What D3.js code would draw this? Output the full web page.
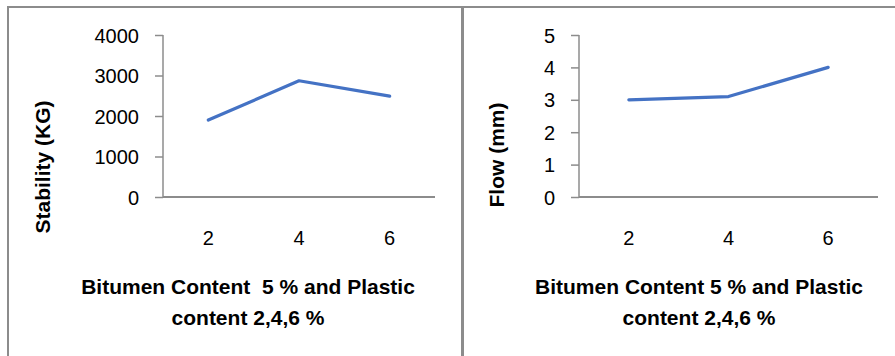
<!DOCTYPE html>
<html><head><meta charset="utf-8">
<script src="https://cdn.jsdelivr.net/npm/d3@7"></script>
<style>body{margin:0;background:#fff}svg{display:block}</style>
</head><body>
<script>
const categories = ["2", "4", "6"];
const stability = [1900, 2870, 2490];
const flow = [3.0, 3.1, 4.0];
const stabilityTicks = [0, 1000, 2000, 3000, 4000];
const flowTicks = [0, 1, 2, 3, 4, 5];
const yTitles = ["Stability (KG)", "Flow (mm)"];
const xTitles = [["Bitumen Content\u00a0\u00a05 % and Plastic", "content 2,4,6 %"], ["Bitumen Content 5 % and Plastic", "content 2,4,6 %"]];

const W = 895, H = 356;
const svg = d3.select("body").append("svg").attr("width", W).attr("height", H);
const font = "'Liberation Sans', Arial, sans-serif";

// borders
svg.append("line").attr("x1", 7).attr("x2", 895).attr("y1", 7).attr("y2", 7).attr("stroke", "#8c8c8c").attr("stroke-width", 2);
svg.append("line").attr("x1", 8).attr("x2", 8).attr("y1", 6).attr("y2", 356).attr("stroke", "#8c8c8c").attr("stroke-width", 2);
svg.append("line").attr("x1", 462.5).attr("x2", 462.5).attr("y1", 6).attr("y2", 356).attr("stroke", "#8c8c8c").attr("stroke-width", 3);

const panels = [
  {data: stability, ticks: stabilityTicks, max: 4000, x0: 163, x1: 435, labelRight: 139, yt: yTitles[0], ytx: 43, yty: 167, xt: xTitles[0], xtx: 248},
  {data: flow, ticks: flowTicks, max: 5, x0: 579, x1: 878, labelRight: 555, yt: yTitles[1], ytx: 497, yty: 155, xt: xTitles[1], xtx: 699}
];

panels.forEach(p => {
  const x = d3.scaleBand().domain(categories).range([p.x0, p.x1]);
  const y = d3.scaleLinear().domain([0, p.max]).range([197, 35]);
  const g = svg.append("g");
  // y axis
  const ya = g.append("g").attr("transform", `translate(${p.x0},0)`)
    .call(d3.axisLeft(y).tickValues(p.ticks).tickSize(8).tickPadding(0).tickFormat(d3.format("d")));
  ya.select(".domain").attr("stroke", "#8c8c8c").attr("stroke-width", 1.5).attr("d", `M0,35V197`);
  ya.selectAll(".tick line").attr("stroke", "#8c8c8c").attr("stroke-width", 1.5);
  ya.selectAll(".tick text").attr("x", p.labelRight - p.x0).attr("dy", "0.35em")
    .attr("font-family", font).attr("font-size", 20).attr("fill", "#000").attr("text-anchor", "end");
  // x axis
  const xa = g.append("g").attr("transform", `translate(0,197)`)
    .call(d3.axisBottom(x).tickSize(0).tickPadding(0));
  xa.select(".domain").attr("stroke", "#8c8c8c").attr("stroke-width", 2).attr("d", `M${p.x0},0H${p.x1}`);
  xa.selectAll(".tick text").attr("y", 41).attr("dy", "0.35em")
    .attr("font-family", font).attr("font-size", 20).attr("fill", "#000");
  // line
  const line = d3.line().x((d, i) => x(categories[i]) + x.bandwidth() / 2).y(d => y(d));
  g.append("path").datum(p.data).attr("d", line).attr("fill", "none")
    .attr("stroke", "#4472C4").attr("stroke-width", 3.2).attr("stroke-linecap", "round").attr("stroke-linejoin", "round");
  // y title
  g.append("text").attr("transform", `translate(${p.ytx},${p.yty}) rotate(-90)`)
    .attr("text-anchor", "middle").attr("dy", "0.35em").attr("font-family", font)
    .attr("font-weight", "bold").attr("font-size", 21).text(p.yt);
  // x title
  p.xt.forEach((t, i) => {
    g.append("text").attr("x", p.xtx).attr("y", 287 + i * 31).attr("dy", "0.35em")
      .attr("text-anchor", "middle").attr("font-family", font).attr("font-weight", "bold")
      .attr("font-size", 21).text(t);
  });
});
</script>
</body></html>
